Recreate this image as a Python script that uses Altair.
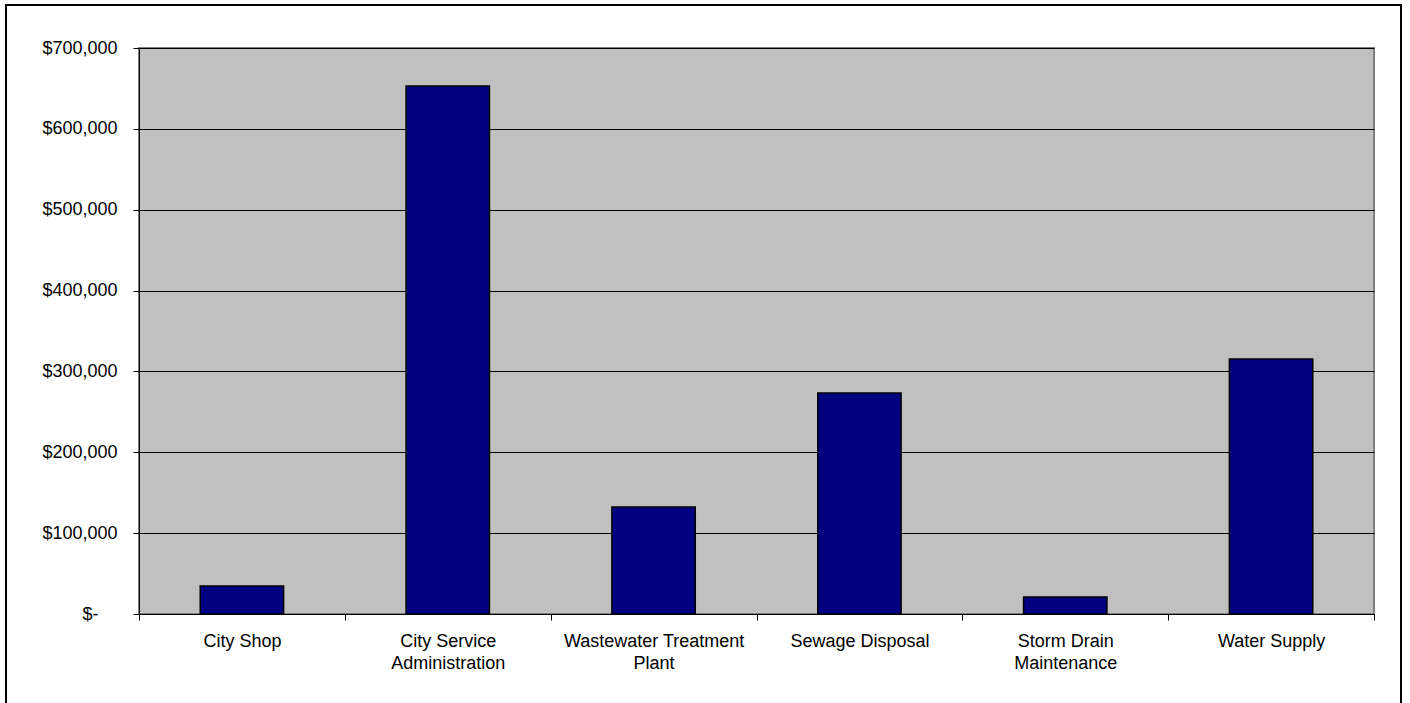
import altair as alt
import pandas as pd

categories = ["City Shop", "City Service Administration", "Wastewater Treatment Plant",
              "Sewage Disposal", "Storm Drain Maintenance", "Water Supply"]
values = [34600, 653000, 132300, 273300, 21000, 315400]
wrapped = {
    "City Service Administration": ["City Service", "Administration"],
    "Wastewater Treatment Plant": ["Wastewater Treatment", "Plant"],
    "Storm Drain Maintenance": ["Storm Drain", "Maintenance"],
}
y_ticks = [0, 100000, 200000, 300000, 400000, 500000, 600000, 700000]

df = pd.DataFrame({"category": categories, "value": values})

label_expr = "datum.label"
for k, v in wrapped.items():
    label_expr = f"datum.label == '{k}' ? ['{v[0]}', '{v[1]}'] : (" + label_expr + ")"

FONT = "Liberation Sans"

bars = alt.Chart(df).mark_bar(
    color="#000080", stroke="#000000", strokeWidth=1.5,
    width=alt.RelativeBandSize(0.405)
).encode(
    x=alt.X("category:N", sort=categories, title=None,
            scale=alt.Scale(paddingInner=0, paddingOuter=0),
            axis=alt.Axis(labelAngle=0, labelExpr=label_expr, labelLineHeight=22,
                          tickBand="extent", tickSize=6, labelPadding=12,
                          labelLimit=400,
                          labelFont=FONT, labelFontSize=18, labelColor="#000000",
                          domainColor="#000000", tickColor="#000000", grid=False,
                          labelBaseline="top")),
    y=alt.Y("value:Q", title=None,
            scale=alt.Scale(domain=[0, 700000], nice=False),
            axis=alt.Axis(values=y_ticks, tickSize=6,
                          labelPadding={"condition": {"test": "datum.value == 0", "value": 35}, "value": 16},
                          labelExpr="datum.value == 0 ? '$-' : '$' + format(datum.value, ',')",
                          labelFont=FONT, labelFontSize=18, labelColor="#000000",
                          domainColor="#000000", tickColor="#000000",
                          grid=True, gridColor="#000000", gridWidth=1)),
)

frame = alt.Chart(pd.DataFrame({"a": [0]})).mark_rect(
    fill=None, stroke="#000000", strokeWidth=2
).encode(
    x=alt.value(-133), x2=alt.value(1262), y=alt.value(-43), y2=alt.value(680)
)

chart = alt.layer(bars, frame).properties(
    width=1235, height=566,
    autosize=alt.AutoSizeParams(type="none"),
    padding={"left": 139, "top": 48, "right": 36, "bottom": 89},
    background="#ffffff",
).configure_view(
    fill="#C0C0C0", stroke="#808080", strokeWidth=2
)

chart.save("out.html", embed_options={"renderer": "svg", "actions": False})
